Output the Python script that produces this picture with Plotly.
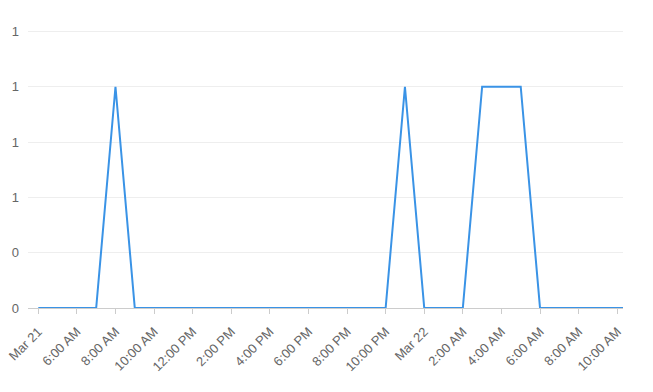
import plotly.graph_objects as go

times = [
    "2024-03-21 04:00", "2024-03-21 05:00", "2024-03-21 06:00", "2024-03-21 07:00",
    "2024-03-21 08:00", "2024-03-21 09:00", "2024-03-21 10:00", "2024-03-21 11:00",
    "2024-03-21 12:00", "2024-03-21 13:00", "2024-03-21 14:00", "2024-03-21 15:00",
    "2024-03-21 16:00", "2024-03-21 17:00", "2024-03-21 18:00", "2024-03-21 19:00",
    "2024-03-21 20:00", "2024-03-21 21:00", "2024-03-21 22:00", "2024-03-21 23:00",
    "2024-03-22 00:00", "2024-03-22 01:00", "2024-03-22 02:00", "2024-03-22 03:00",
    "2024-03-22 04:00", "2024-03-22 05:00", "2024-03-22 06:00", "2024-03-22 07:00",
    "2024-03-22 08:00", "2024-03-22 09:00", "2024-03-22 10:00", "2024-03-22 10:18",
]
values = [0, 0, 0, 0, 1, 0, 0, 0, 0, 0, 0, 0, 0, 0, 0, 0,
          0, 0, 0, 1, 0, 0, 0, 1, 1, 1, 0, 0, 0, 0, 0, 0]

x_tick_vals = [
    "2024-03-21 04:00", "2024-03-21 06:00", "2024-03-21 08:00", "2024-03-21 10:00",
    "2024-03-21 12:00", "2024-03-21 14:00", "2024-03-21 16:00", "2024-03-21 18:00",
    "2024-03-21 20:00", "2024-03-21 22:00", "2024-03-22 00:00", "2024-03-22 02:00",
    "2024-03-22 04:00", "2024-03-22 06:00", "2024-03-22 08:00", "2024-03-22 10:00",
]
x_tick_text = [
    "Mar 21", "6:00 AM", "8:00 AM", "10:00 AM", "12:00 PM", "2:00 PM", "4:00 PM",
    "6:00 PM", "8:00 PM", "10:00 PM", "Mar 22", "2:00 AM", "4:00 AM", "6:00 AM",
    "8:00 AM", "10:00 AM",
]
y_tick_vals = [0, 0.25, 0.5, 0.75, 1.0, 1.25]
y_tick_text = ["0", "0", "1", "1", "1", "1"]

fig = go.Figure(go.Scatter(
    x=times, y=values, mode="lines",
    line=dict(color="#3a93e6", width=2),
    hoverinfo="skip",
))

fig.update_layout(
    width=653, height=392,
    margin=dict(l=28, r=30, t=27, b=84),
    plot_bgcolor="white", paper_bgcolor="white",
    showlegend=False,
    font=dict(family="Arial, Liberation Sans, sans-serif", size=13, color="#666666"),
)
fig.update_xaxes(
    type="date", automargin=False,
    range=["2024-03-21 03:28", "2024-03-22 10:18"],
    tickvals=x_tick_vals, ticktext=x_tick_text, tickangle=-45,
    showgrid=False, showline=True, linecolor="#cccccc", linewidth=1,
    ticks="outside", ticklen=5, tickcolor="#cccccc",
    ticklabelstandoff=5,
    tickfont=dict(size=13, color="#666666"),
)
fig.update_yaxes(
    automargin=False,
    range=[0, 1.27],
    tickvals=y_tick_vals, ticktext=y_tick_text,
    showgrid=True, gridcolor="#eeeeee", gridwidth=1,
    zeroline=False, showline=False, ticks="",
    ticklabelstandoff=8,
    tickfont=dict(size=13, color="#666666"),
)

fig.write_html("out.html")
